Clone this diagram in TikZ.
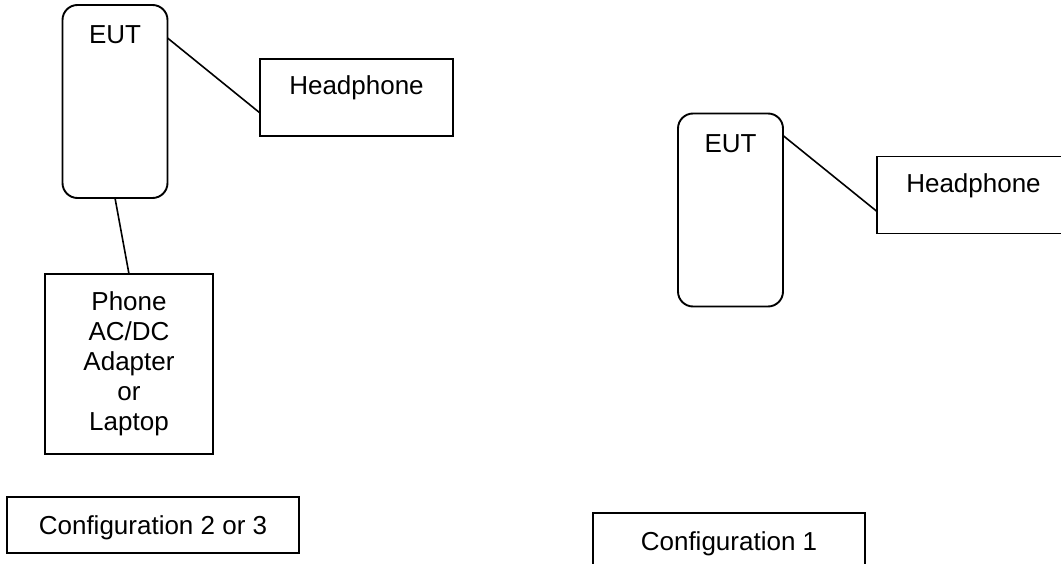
\documentclass[tikz,border=0pt]{standalone}
\usepackage{fontspec}
\setmainfont{Liberation Sans}
\usetikzlibrary{positioning}

\begin{document}
\begin{tikzpicture}[x=1pt, y=-1pt, line width=1.6pt, font=\fontsize{26}{30}\selectfont,
    eutbox/.style={draw, line width=1.9pt, rounded corners=15pt, minimum width=105pt, minimum height=193pt, inner sep=0pt, outer sep=0pt},
    plainbox/.style={draw, line width=1.9pt, inner sep=0pt, outer sep=0pt},
    toplabel/.style={anchor=north, inner sep=0pt}]
\useasboundingbox (0,0) rectangle (1061,564);

% Draw the two EUT boxes
\foreach \n/\x/\y in {eutL/115/101.5, eutR/730.5/210} {
    \node[eutbox, label={[toplabel, yshift=-20pt]north:EUT}] (\n) at (\x,\y) {};
}

% Headphone boxes
\foreach \n/\x/\y in {hpL/356.5/97.5, hpR/973.5/195} {
    \node[plainbox, minimum width=193pt, minimum height=77pt, label={[toplabel, yshift=-16pt]north:Headphone}] (\n) at (\x,\y) {};
}

% Supply box under the left EUT
\node[plainbox, align=center, minimum width=168pt, minimum height=180pt] (supply) at (129,364) {Phone\\AC/DC\\Adapter\\or\\Laptop};

% Configuration captions
\node[plainbox, minimum width=292pt, minimum height=56pt, text height=18.6pt, text depth=0pt] (cfgL) at (153,525) {Configuration 2 or 3};
\node[plainbox, minimum width=272pt, minimum height=56pt, text height=18.6pt, text depth=0pt] (cfgR) at (729,541) {Configuration 1};

% Cables
\draw ([yshift=-33pt]eutL.north east) -- ([yshift=-54pt]hpL.north west);
\draw (eutL.south) -- (supply.north);
\draw ([yshift=-22pt]eutR.north east) -- ([yshift=-55pt]hpR.north west);

\end{tikzpicture}
\end{document}
